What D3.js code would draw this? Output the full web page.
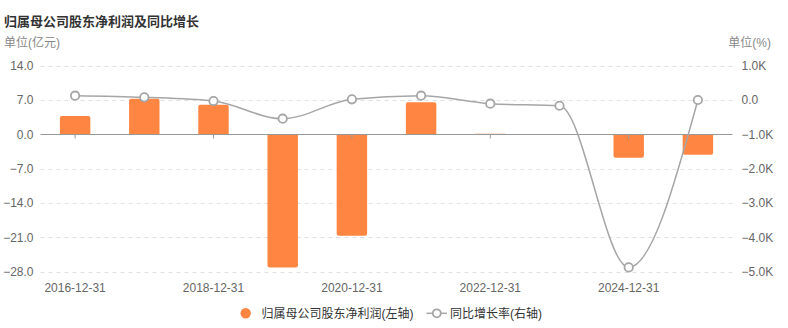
<!DOCTYPE html>
<html>
<head>
<meta charset="utf-8">
<script src="https://cdn.jsdelivr.net/npm/d3@7/dist/d3.min.js"></script>
<style>
  html, body { margin: 0; padding: 0; background: #fff; }
  svg { display: block; font-family: "Liberation Sans", "Noto Sans CJK SC", sans-serif; }
</style>
</head>
<body>
<svg id="chart" width="788" height="328"></svg>
<script>
// Report dates
const categories = ["2016-12-31","2017-12-31","2018-12-31","2019-12-31","2020-12-31",
                    "2021-12-31","2022-12-31","2023-12-31","2024-12-31","2025-12-31"];
// Net profit attributable to parent shareholders (100M CNY)
const profit = [3.7, 7.2, 6.0, -27.2, -20.7, 6.5, 0.1, 0.0, -4.8, -4.2];
// Year-over-year growth (%)
const growth = [120, 73, -35, -550, 15, 120, -113, -172, -4880, -5];
// Axis ticks
const leftTicks = [14, 7, 0, -7, -14, -21, -28];
const rightTicks = [1000, 0, -1000, -2000, -3000, -4000, -5000];

const titleText = "归属母公司股东净利润及同比增长";
const leftUnit = "单位(亿元)";
const rightUnit = "单位(%)";
const legendBar = "归属母公司股东净利润(左轴)";
const legendLine = "同比增长率(右轴)";

const barColor = "#ff8642";
const lineColor = "#a6a6a6";
const textColor = "#666";

const svg = d3.select("#chart");
const plot = { left: 40.5, right: 732.5, top: 65.5, bottom: 271.5 };

const x = d3.scaleBand().domain(categories)
  .range([plot.left, plot.right]).paddingInner(0.56).paddingOuter(0.28);
const yL = d3.scaleLinear().domain([-28, 14]).range([plot.bottom, plot.top]);
const yR = d3.scaleLinear().domain([-5000, 1000]).range([plot.bottom, plot.top]);

// Title and units
svg.append("text").attr("x", 4).attr("y", 25.5)
  .attr("font-size", 13).attr("font-weight", "bold").attr("fill", "#333")
  .text(titleText);
svg.append("text").attr("x", 4).attr("y", 47)
  .attr("font-size", 12).attr("fill", "#888").text(leftUnit);
svg.append("text").attr("x", 771).attr("y", 47).attr("text-anchor", "end")
  .attr("font-size", 12).attr("fill", "#888").text(rightUnit);

// Dashed grid lines
const grid = svg.append("g");
leftTicks.filter(v => v !== 0).forEach(v => {
  grid.append("line")
    .attr("x1", plot.left).attr("x2", plot.right)
    .attr("y1", Math.round(yL(v)) + 0.5).attr("y2", Math.round(yL(v)) + 0.5)
    .attr("stroke", "#e0e0e0").attr("stroke-dasharray", "4,4");
});

// Left axis labels
const leftAxis = d3.axisLeft(yL).tickValues(leftTicks).tickSize(0).tickPadding(7)
  .tickFormat(d3.format(".1f"));
const gL = svg.append("g").attr("transform", `translate(${plot.left},0)`).call(leftAxis);
gL.select(".domain").remove();
gL.selectAll("text").attr("font-size", 12).attr("fill", textColor)
  .attr("font-family", "Liberation Sans, sans-serif");

// Right axis labels
const kFmt = v => v === 0 ? "0.0" : d3.format(".1f")(v / 1000) + "K";
const rightAxis = d3.axisRight(yR).tickValues(rightTicks).tickSize(0).tickPadding(9)
  .tickFormat(kFmt);
const gR = svg.append("g").attr("transform", `translate(${plot.right},0)`).call(rightAxis);
gR.select(".domain").remove();
gR.selectAll("text").attr("font-size", 12).attr("fill", textColor)
  .attr("font-family", "Liberation Sans, sans-serif");

// Bars
svg.append("g").selectAll("path").data(categories).join("path")
  .attr("d", (c, i) => {
    const v = profit[i];
    const x0 = x(c), w = x.bandwidth();
    const y0 = yL(0), y1 = yL(v);
    const top = Math.min(y0, y1), h = Math.abs(y1 - y0);
    const r = Math.min(2, h / 2);
    const p = d3.path();
    if (v >= 0) {
      p.moveTo(x0, top + h);
      p.lineTo(x0, top + r);
      p.quadraticCurveTo(x0, top, x0 + r, top);
      p.lineTo(x0 + w - r, top);
      p.quadraticCurveTo(x0 + w, top, x0 + w, top + r);
      p.lineTo(x0 + w, top + h);
    } else {
      p.moveTo(x0, top);
      p.lineTo(x0, top + h - r);
      p.quadraticCurveTo(x0, top + h, x0 + r, top + h);
      p.lineTo(x0 + w - r, top + h);
      p.quadraticCurveTo(x0 + w, top + h, x0 + w, top + h - r);
      p.lineTo(x0 + w, top);
    }
    p.closePath();
    return p.toString();
  })
  .attr("fill", barColor);

// Zero baseline with category ticks
const y0 = Math.round(yL(0)) + 0.5;
svg.append("line").attr("x1", plot.left).attr("x2", plot.right)
  .attr("y1", y0).attr("y2", y0).attr("stroke", "#999").attr("stroke-width", 1);
const xAxis = d3.axisBottom(x)
  .tickValues(categories.filter((c, i) => i % 2 === 0))
  .tickSize(4).tickPadding(0);
const gX = svg.append("g").attr("transform", `translate(0,${y0})`).call(xAxis);
gX.select(".domain").remove();
gX.selectAll("line").attr("stroke", "#999");
gX.selectAll("text").remove();

// Category labels along the bottom
svg.append("g").selectAll("text")
  .data(categories.filter((c, i) => i % 2 === 0)).join("text")
  .attr("x", c => x(c) + x.bandwidth() / 2).attr("y", 291.5)
  .attr("text-anchor", "middle").attr("font-size", 12).attr("fill", textColor)
  .text(c => c);

// Growth line
const cx = (i) => x(categories[i]) + x.bandwidth() / 2;
const line = d3.line().x((d, i) => cx(i)).y(d => yR(d)).curve(d3.curveMonotoneX);
svg.append("path").datum(growth).attr("d", line)
  .attr("fill", "none").attr("stroke", lineColor).attr("stroke-width", 1.5);
svg.append("g").selectAll("circle").data(growth).join("circle")
  .attr("cx", (d, i) => cx(i)).attr("cy", d => yR(d)).attr("r", 4.2)
  .attr("fill", "#fff").attr("stroke", lineColor).attr("stroke-width", 1.8);

// Legend
const lg = svg.append("g");
lg.append("circle").attr("cx", 245.7).attr("cy", 313.3).attr("r", 5.2).attr("fill", barColor);
lg.append("text").attr("x", 261.5).attr("y", 317.6).attr("font-size", 12)
  .attr("fill", "#333").text(legendBar);
lg.append("line").attr("x1", 426.5).attr("x2", 447).attr("y1", 313.3).attr("y2", 313.3)
  .attr("stroke", lineColor).attr("stroke-width", 1.5);
lg.append("circle").attr("cx", 436.8).attr("cy", 313.3).attr("r", 4)
  .attr("fill", "#fff").attr("stroke", lineColor).attr("stroke-width", 1.8);
lg.append("text").attr("x", 450).attr("y", 317.6).attr("font-size", 12)
  .attr("fill", "#333").text(legendLine);
</script>
</body>
</html>
